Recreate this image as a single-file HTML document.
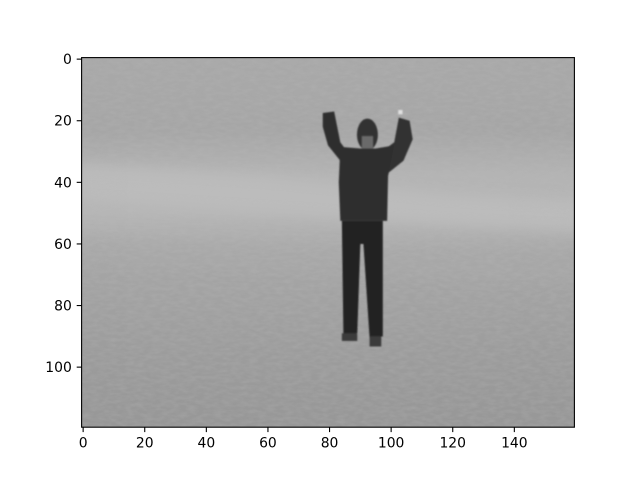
<!DOCTYPE html>
<html><head><meta charset="utf-8"><style>
html,body{margin:0;padding:0;background:#fff;}
svg{display:block;font-family:"DejaVu Sans","Liberation Sans",sans-serif;}
</style></head><body>
<svg id="fig" width="640" height="480" viewBox="0 0 640 480">
  <defs>
    <linearGradient id="bg" x1="0" y1="0" x2="0" y2="1">
      <stop offset="0" stop-color="#a9a9a9"/>
      <stop offset="0.2" stop-color="#a6a6a6"/>
      <stop offset="0.32" stop-color="#b4b4b4"/>
      <stop offset="0.42" stop-color="#b6b6b6"/>
      <stop offset="0.55" stop-color="#a6a6a6"/>
      <stop offset="0.8" stop-color="#9c9c9c"/>
      <stop offset="1" stop-color="#979797"/>
    </linearGradient>
    <filter id="blur"><feGaussianBlur stdDeviation="2"/></filter>
    <filter id="sblur"><feGaussianBlur stdDeviation="0.3"/></filter>
    <filter id="noise" x="0" y="0" width="100%" height="100%">
      <feTurbulence type="fractalNoise" baseFrequency="0.35 0.9" numOctaves="2" seed="3"/>
      <feColorMatrix type="matrix" values="0 0 0 0 0.5  0 0 0 0 0.5  0 0 0 0 0.5  0 0 0 1.2 -0.35"/>
    </filter>
    <clipPath id="clip"><rect x="-0.5" y="-0.5" width="160" height="120"/></clipPath>
  </defs>
  <g id="image" transform="translate(81.6,57.6) scale(3.08) translate(0.5,0.5)" clip-path="url(#clip)">
    <rect x="-0.5" y="-0.5" width="160" height="120" fill="url(#bg)"/>
    <g filter="url(#blur)">
      <polygon points="-2,34 60,38 120,44 162,46 162,56 120,54 60,50 -2,46" fill="#bdbdbd" opacity="0.8"/>
      <polygon points="-2,58 162,64 162,72 -2,66" fill="#a8a8a8" opacity="0.6"/>
    </g>
    <rect x="-0.5" y="-0.5" width="160" height="120" filter="url(#noise)" opacity="0.35"/>
    <g filter="url(#sblur)">
      <polygon points="77.8,17.5 81.5,17 83.5,27 85,29 83.5,33 79.5,28 77.8,22" fill="#2f2f2f"/>
      <polygon points="102.5,19 106,20 107,26 104,33 99,37 97,30 101,27" fill="#333"/>
      <ellipse cx="92.3" cy="24.5" rx="3.4" ry="5.2" fill="#333"/>
      <rect x="90.5" y="25" width="3.6" height="4" fill="#6a6a6a"/>
      <polygon points="83.5,28.5 90,29 95,29 101,28 99,38 98.7,52.5 83.5,52.5 83,40" fill="#2e2e2e"/>
      <polygon points="84,52.5 97.3,52.5 97.3,90 93,90.5 91,60 90,60 89,89 84.5,89.5" fill="#222"/>
      <rect x="84" y="89" width="5" height="2.5" fill="#3a3a3a"/>
      <rect x="93" y="90" width="3.8" height="3.3" fill="#3a3a3a"/>
      <rect x="102.3" y="16.5" width="1.4" height="1.4" fill="#e0e0e0"/>
    </g>
  </g>
  <rect x="81.6" y="57.6" width="492.8" height="369.6" fill="none" stroke="#000" stroke-width="1.1"/>
  <g id="xticks"></g>
  <g id="yticks"></g>
</svg>
<script>
const xTicks = [0, 20, 40, 60, 80, 100, 120, 140];
const yTicks = [0, 20, 40, 60, 80, 100];
const X0 = 81.6, Y0 = 57.6, S = 3.08;
function xs(v){ return X0 + (v + 0.5) * S; }
function ys(v){ return Y0 + (v + 0.5) * S; }
const NS = "http://www.w3.org/2000/svg";
const gx = document.getElementById('xticks');
const gy = document.getElementById('yticks');
xTicks.forEach(v => {
  const x = xs(v);
  const l = document.createElementNS(NS, 'line');
  l.setAttribute('x1', x); l.setAttribute('x2', x);
  l.setAttribute('y1', 427.2); l.setAttribute('y2', 432.1);
  l.setAttribute('stroke', '#000'); l.setAttribute('stroke-width', '1.1');
  
  
  gx.appendChild(l);
  const t = document.createElementNS(NS, 'text');
  t.setAttribute('x', x); t.setAttribute('y', 447.5);
  t.setAttribute('text-anchor', 'middle'); t.setAttribute('font-size', '13.9');
  t.textContent = v;
  
  
  gx.appendChild(t);
});
yTicks.forEach(v => {
  const y = ys(v);
  const l = document.createElementNS(NS, 'line');
  l.setAttribute('x1', 76.7); l.setAttribute('x2', 81.6);
  l.setAttribute('y1', y); l.setAttribute('y2', y);
  l.setAttribute('stroke', '#000'); l.setAttribute('stroke-width', '1.1');
  
  
  gy.appendChild(l);
  const t = document.createElementNS(NS, 'text');
  t.setAttribute('x', 71.8); t.setAttribute('y', y + 5);
  t.setAttribute('text-anchor', 'end'); t.setAttribute('font-size', '13.9');
  t.textContent = v;
  
  
  gy.appendChild(t);
});
</script>
</body></html>
